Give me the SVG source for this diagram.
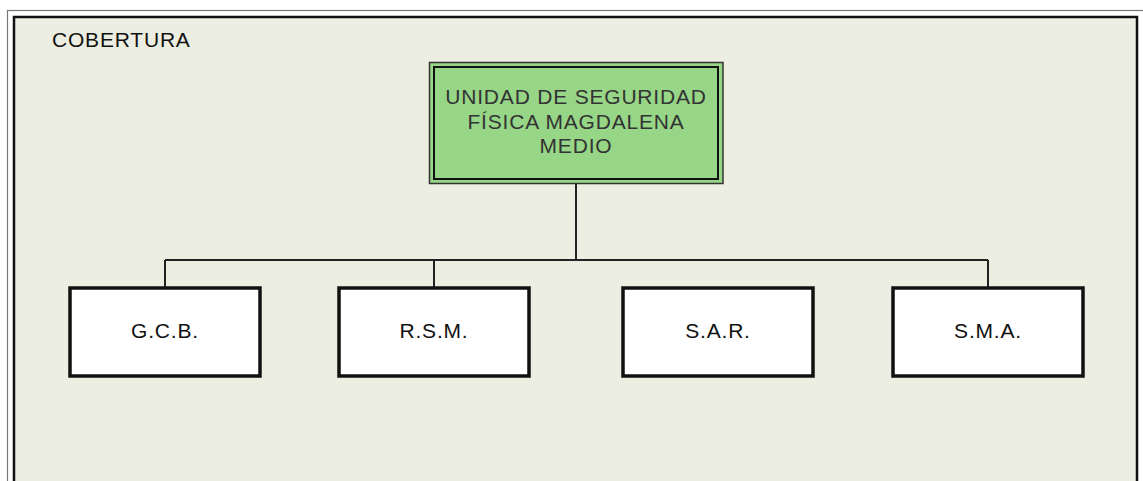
<svg xmlns="http://www.w3.org/2000/svg" width="1143" height="481" viewBox="0 0 1143 481">
<style>
.t{font-family:"Liberation Sans",Arial,sans-serif;font-size:21px;letter-spacing:0.8px}
.c{text-anchor:middle}
.box{fill:#ffffff;stroke:#111;stroke-width:3.5}
.ln{fill:none;stroke:#222;stroke-width:2}
</style>
<rect x="0" y="0" width="1143" height="481" fill="#ffffff"/>
<g id="frame">
<rect x="7.5" y="10.5" width="1150" height="490" fill="none" stroke="#777" stroke-width="1.2"/>
<rect x="14" y="17" width="1123" height="480" fill="#EDEEE2" stroke="#111" stroke-width="2.5"/>
<text class="t" x="52" y="47" fill="#111">COBERTURA</text>
</g>
<g id="connectors">
<path class="ln" d="M576 184 V260 M165 260 H988 M165 260 V287 M434 260 V287 M988 260 V287"/>
</g>
<g id="root">
<rect x="429.5" y="62.5" width="293.5" height="121" fill="#98D687" stroke="#333" stroke-width="1.5"/>
<rect x="434" y="67" width="284" height="112" fill="none" stroke="#111" stroke-width="2"/>
<text class="t c" fill="#333"><tspan x="576" y="104">UNIDAD DE SEGURIDAD</tspan><tspan x="576" y="128.5">FÍSICA MAGDALENA</tspan><tspan x="576" y="153">MEDIO</tspan></text>
</g>
<g id="gcb">
<rect class="box" x="70" y="288" width="190" height="88"/>
<text class="t c" x="165" y="338" fill="#111">G.C.B.</text>
</g>
<g id="rsm">
<rect class="box" x="339" y="288" width="190" height="88"/>
<text class="t c" x="434" y="338" fill="#111">R.S.M.</text>
</g>
<g id="sar">
<rect class="box" x="623" y="288" width="190" height="88"/>
<text class="t c" x="718" y="338" fill="#111">S.A.R.</text>
</g>
<g id="sma">
<rect class="box" x="893" y="288" width="190" height="88"/>
<text class="t c" x="988" y="338" fill="#111">S.M.A.</text>
</g>
</svg>
